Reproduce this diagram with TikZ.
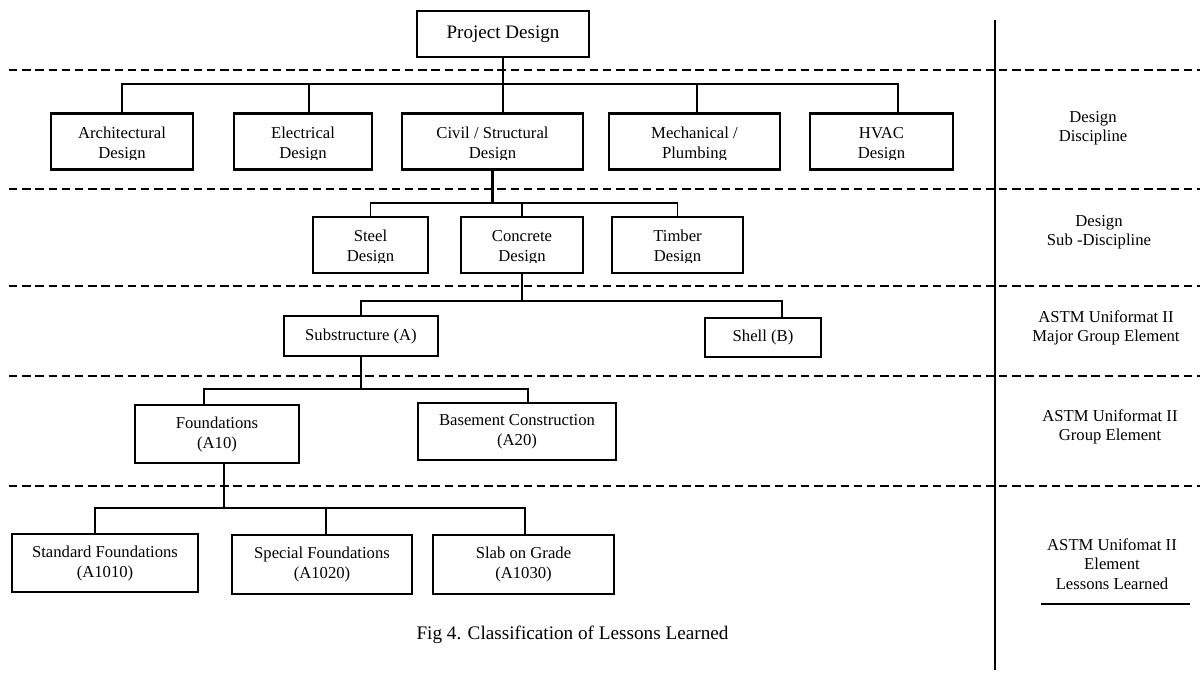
\documentclass[tikz,border=0pt]{standalone}
\usepackage{fontspec}
\setmainfont{Liberation Serif}
\usetikzlibrary{calc}
\tikzset{
  box/.style={draw, line width=1.7pt, align=center, inner sep=0pt, font=\fontsize{12.5}{15}\selectfont},
  lbl/.style={align=center, inner sep=0pt, font=\fontsize{12.5}{14.6}\selectfont},
  sep/.style={line width=1pt, dash pattern=on 6.3pt off 3.6pt},
  thk/.style={line width=1.7pt},
  thn/.style={line width=1.1pt},
  cover/.style={fill=white, draw=none},
}
\newcommand{\up}{\rule{0pt}{12.8pt}}
\begin{document}
\begin{tikzpicture}[x=0.75pt, y=-0.75pt]
\useasboundingbox (0,0) rectangle (1200,672);

% separators
\foreach \yy in {70,189,286,376,486} \draw[sep] (9,\yy) -- (1200,\yy);
\coordinate (vt) at (995,20);
\coordinate (vb) at (995,670);
\draw[line width=1.25pt] (vt) -- (vb);

% nodes
\node[box, minimum width=129pt, minimum height=34.5pt, font=\fontsize{14.3}{17}\selectfont] (pd) at (503,34) {Project Design};

\node[box, minimum width=106.5pt, minimum height=42pt] (arch) at (122,141.5) {\up Architectural\\Design};
\node[box, minimum width=103.5pt, minimum height=42pt] (elec) at (303,141.5) {\up Electrical\\Design};
\node[box, minimum width=135.75pt, minimum height=42pt] (civil) at (492.5,141.5) {\up Civil / Structural\\Design};
\node[box, minimum width=128.25pt, minimum height=42pt] (mech) at (694.5,141.5) {\up Mechanical /\\Plumbing};
\node[box, minimum width=107.25pt, minimum height=42pt] (hvac) at (881.5,141.5) {\up HVAC\\Design};

\node[box, minimum width=86.25pt, minimum height=42pt] (steel) at (370.5,245) {\up Steel\\Design};
\node[box, minimum width=91.5pt, minimum height=42pt] (conc) at (522,245) {\up Concrete\\Design};
\node[box, minimum width=98.25pt, minimum height=42pt] (timb) at (677.5,245) {\up Timber\\Design};

\node[box, minimum width=115.5pt, minimum height=30pt] (sub) at (361,336) {Substructure (A)};
\node[box, minimum width=87pt, minimum height=29.25pt] (shell) at (763,337.5) {Shell (B)};

\node[box, minimum width=123pt, minimum height=43.5pt] (found) at (217,434) {Foundations\\(A10)};
\node[box, minimum width=148.5pt, minimum height=42.75pt] (base) at (517,431.5) {Basement Construction\\(A20)};

\node[box, minimum width=139.5pt, minimum height=43.5pt] (std) at (105,563) {Standard Foundations\\(A1010)};
\node[box, minimum width=135pt, minimum height=44.25pt] (spec) at (322,564.5) {Special Foundations\\(A1020)};
\node[box, minimum width=135.75pt, minimum height=44.25pt] (slab) at (523.5,564.5) {Slab on Grade\\(A1030)};

% clipped text bottoms
\foreach \n in {arch,elec,civil,mech,hvac}
  \fill[cover] ($(\n.south west)+(2.5,-2.4)$) rectangle ($(\n.south east)+(-2.5,-10.8)$);
\foreach \n in {steel,conc,timb}
  \fill[cover] ($(\n.south west)+(2.5,-2.4)$) rectangle ($(\n.south east)+(-2.5,-11.3)$);

% bus levels
\coordinate (b1) at (0,84);
\coordinate (b2) at (0,203);
\coordinate (b3) at (0,301);
\coordinate (b4) at (0,389);
\coordinate (b5) at (0,508);

% level 1
\coordinate (el) at ($(elec.north)+(6,0)$);
\coordinate (me) at ($(mech.north)+(2.5,0)$);
\coordinate (hv) at ($(hvac.north)+(16.5,0)$);
\draw[line width=1.9pt] (pd.south) -- (pd.south |- civil.north);
\draw[thk] (arch.north) -- (arch.north |- b1) -- (hv |- b1) -- (hv);
\draw[thk] (el) -- (el |- b1);
\draw[line width=1.4pt] (me) -- (me |- b1);

% level 2
\draw[thk] (civil.south) -- (civil.south |- b2);
\draw[thn] (steel.north) -- (steel.north |- b2) -- (timb.north |- b2) -- (timb.north);
\draw[thk] (conc.north) -- (conc.north |- b2);

% level 3
\coordinate (sh) at ($(shell.north)+(19,0)$);
\draw[thn] (conc.south) -- (conc.south |- b3);
\draw[thn] (sub.north) -- (sub.north |- b3) -- (sh |- b3) -- (sh);

% level 4
\coordinate (fo) at ($(found.north)+(-13,0)$);
\coordinate (ba) at ($(base.north)+(11,0)$);
\draw[thn] (sub.south) -- (sub.south |- b4);
\draw[thn] (fo) -- (fo |- b4) -- (ba |- b4) -- (ba);

% level 5
\coordinate (fs) at ($(found.south)+(7,0)$);
\coordinate (sd) at ($(std.north)+(-10,0)$);
\coordinate (sp) at ($(spec.north)+(4,0)$);
\coordinate (sl) at ($(slab.north)+(1.5,0)$);
\draw[thn] (fs) -- (fs |- b5);
\draw[thn] (sd) -- (sd |- b5) -- (sl |- b5) -- (sl);
\draw[thn] (sp) -- (sp |- b5);

% right-hand labels
\node[lbl] (l1) at (1093,128) {Design\\Discipline};
\node[lbl] (l2) at (1099,232) {Design\\Sub -Discipline};
\node[lbl] (l3) at (1106,328) {ASTM Uniformat II\\Major Group Element};
\node[lbl] (l4) at (1110,427) {ASTM Uniformat II\\Group Element};
\node[lbl] (l5) at (1112,564) {ASTM Unifomat II\\Element\\Lessons Learned};
\coordinate (ul) at (1041,604);
\coordinate (ur) at (1190,604);
\draw[line width=1.5pt] (ul) -- (ur);

% caption
\node[inner sep=0pt, font=\fontsize{14.4}{17}\selectfont] (cap) at (572.5,635) {Fig 4. Classification of Lessons Learned};
\end{tikzpicture}
\end{document}
